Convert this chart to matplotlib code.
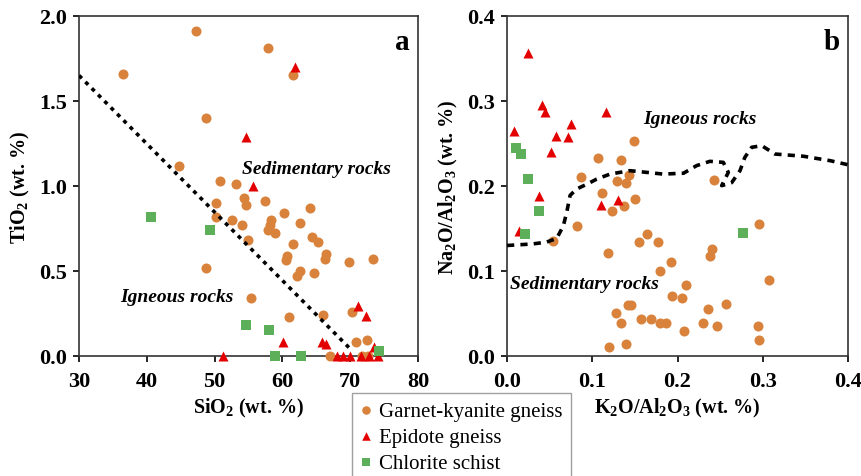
import numpy as np
import matplotlib
matplotlib.use('Agg')
from matplotlib import pyplot as plt

plt.rcParams['font.family'] = ['Liberation Serif', 'DejaVu Serif']
plt.rcParams['mathtext.fontset'] = 'custom'
plt.rcParams['mathtext.rm'] = 'Liberation Serif:bold'
plt.rcParams['mathtext.bf'] = 'Liberation Serif:bold'
plt.rcParams['mathtext.it'] = 'Liberation Serif:bold:italic'

# panel a: SiO2 vs TiO2 (wt. %)
gk_sio2 = [47.2, 36.5, 57.9, 61.6, 48.8, 44.7, 50.8, 53.2, 50.2, 54.3, 54.6, 57.5,
           50.2, 52.6, 54.1, 58.3, 58.2, 57.9, 58.9, 60.3, 64.0, 62.6, 54.9, 64.3,
           65.2, 61.6, 66.5, 66.3, 60.7, 60.5, 73.3, 69.8, 48.8, 62.6, 62.2, 64.7,
           55.4, 70.2, 66.0, 61.0, 70.9, 72.5, 67.0, 71.8, 72.6]
gk_tio2 = [1.91, 1.66, 1.81, 1.655, 1.40, 1.12, 1.03, 1.01, 0.90, 0.93, 0.89, 0.91,
           0.82, 0.80, 0.77, 0.80, 0.77, 0.74, 0.725, 0.84, 0.87, 0.78, 0.68, 0.70,
           0.67, 0.66, 0.60, 0.57, 0.59, 0.565, 0.57, 0.55, 0.52, 0.50, 0.47, 0.49,
           0.34, 0.26, 0.24, 0.23, 0.085, 0.095, 0.0, 0.0, 0.0]
ep_sio2 = [61.9, 54.6, 55.6, 71.2, 72.3, 60.1, 65.8, 66.4, 73.5, 51.2, 68.0, 69.0,
           69.9, 71.6, 72.8, 74.1]
ep_tio2 = [1.70, 1.29, 1.0, 0.295, 0.235, 0.085, 0.085, 0.07, 0.055, 0.0, 0.0, 0.0,
           0.0, 0.0, 0.0, 0.0]
cs_sio2 = [40.6, 49.3, 54.7, 58.0, 74.3, 58.9, 62.7]
cs_tio2 = [0.82, 0.74, 0.18, 0.15, 0.03, 0.0, 0.0]
bound_a_x = [30, 70.3]
bound_a_y = [1.65, 0.03]

# panel b: K2O/Al2O3 vs Na2O/Al2O3
gk_k = [0.149, 0.107, 0.134, 0.087, 0.1435, 0.129, 0.1396, 0.2424, 0.111, 0.123,
        0.137, 0.150, 0.0817, 0.054, 0.296, 0.164, 0.155, 0.1775, 0.119, 0.240,
        0.238, 0.192, 0.1795, 0.307, 0.210, 0.1935, 0.205, 0.257, 0.142, 0.145,
        0.236, 0.128, 0.157, 0.169, 0.134, 0.180, 0.187, 0.230, 0.246, 0.294,
        0.208, 0.2956, 0.140, 0.1196]
gk_na = [0.253, 0.233, 0.230, 0.210, 0.2125, 0.206, 0.203, 0.2067, 0.192, 0.171,
         0.177, 0.185, 0.153, 0.1357, 0.155, 0.144, 0.134, 0.134, 0.121, 0.126,
         0.118, 0.110, 0.100, 0.089, 0.084, 0.071, 0.068, 0.061, 0.060, 0.060,
         0.055, 0.051, 0.0435, 0.0435, 0.039, 0.039, 0.0385, 0.0388, 0.035, 0.0357,
         0.029, 0.0188, 0.014, 0.010]
ep_k = [0.025, 0.041, 0.044, 0.116, 0.008, 0.075, 0.058, 0.072, 0.051, 0.110, 0.130,
        0.037, 0.0137]
ep_na = [0.357, 0.295, 0.287, 0.287, 0.265, 0.273, 0.259, 0.258, 0.240, 0.178, 0.184,
         0.188, 0.147]
cs_k = [0.0106, 0.016, 0.0246, 0.038, 0.0215, 0.2765]
cs_na = [0.245, 0.238, 0.208, 0.170, 0.1435, 0.1447]
bound_b_x = [0.0, 0.03, 0.0465, 0.0583, 0.066, 0.070, 0.074, 0.0817, 0.0935, 0.105,
             0.1208, 0.144, 0.164, 0.183, 0.207, 0.2225, 0.238, 0.2537, 0.2596,
             0.2518, 0.2636, 0.2733, 0.279, 0.287, 0.2988, 0.3144, 0.3476, 0.379, 0.4]
bound_b_y = [0.13, 0.1318, 0.134, 0.1384, 0.153, 0.169, 0.189, 0.1965, 0.202, 0.208,
             0.214, 0.218, 0.216, 0.214, 0.215, 0.224, 0.229, 0.2278, 0.216,
             0.2004, 0.204, 0.218, 0.2337, 0.2455, 0.2474, 0.2376, 0.235, 0.2298, 0.225]

c_gk = '#D9823B'
c_ep = '#E30000'
c_cs = '#5DAF5A'
ms = 52

fig = plt.figure(figsize=(8.61, 4.77), dpi=100)
ax1 = fig.add_axes([0.0918, 0.2516, 0.3937, 0.7128])
ax2 = fig.add_axes([0.5889, 0.2516, 0.3960, 0.7128])

for ax in (ax1, ax2):
    for s in ax.spines.values():
        s.set_linewidth(1.2)
        s.set_color('#333333')
    ax.tick_params(direction='out', length=4.5, width=1.2, labelsize=16, pad=4)
    ax.tick_params(axis='x', pad=6)

# a
ax1.scatter(gk_sio2, gk_tio2, s=ms, c=c_gk, marker='o', linewidths=0, label='Garnet-kyanite gneiss', clip_on=False, zorder=3)
ax1.scatter(ep_sio2, ep_tio2, s=ms, c=c_ep, marker='^', linewidths=0, label='Epidote gneiss', clip_on=False, zorder=4)
ax1.scatter(cs_sio2, cs_tio2, s=ms, c=c_cs, marker='s', linewidths=0, label='Chlorite schist', clip_on=False, zorder=5)
ax1.plot(bound_a_x, bound_a_y, color='black', lw=2.6, linestyle=(0, (1.1, 1.4)), zorder=6)
ax1.set_xlim(30, 80)
ax1.set_ylim(0, 2.0)
ax1.set_xticks([30, 40, 50, 60, 70, 80])
ax1.set_yticks([0.0, 0.5, 1.0, 1.5, 2.0])
ax1.set_yticklabels(['0.0', '0.5', '1.0', '1.5', '2.0'], fontweight='bold')
ax1.set_xticklabels(['30', '40', '50', '60', '70', '80'], fontweight='bold')
ax1.set_xlabel(r'SiO$_\mathbf{2}$ (wt. %)', fontsize=14.5, fontweight='bold', labelpad=4)
ax1.set_ylabel(r'TiO$_\mathbf{2}$ (wt. %)', fontsize=14.5, fontweight='bold', labelpad=5)
ax1.text(54.0, 1.10, 'Sedimentary rocks', fontsize=14, fontweight='bold', fontstyle='italic', va='center')
ax1.text(36.0, 0.35, 'Igneous rocks', fontsize=14, fontweight='bold', fontstyle='italic', va='center')
ax1.text(0.975, 0.965, 'a', transform=ax1.transAxes, fontsize=21, fontweight='bold', ha='right', va='top')

# b
ax2.scatter(gk_k, gk_na, s=ms, c=c_gk, marker='o', linewidths=0, clip_on=False, zorder=3)
ax2.scatter(ep_k, ep_na, s=ms, c=c_ep, marker='^', linewidths=0, clip_on=False, zorder=4)
ax2.scatter(cs_k, cs_na, s=ms, c=c_cs, marker='s', linewidths=0, clip_on=False, zorder=5)
ax2.plot(bound_b_x, bound_b_y, color='black', lw=2.6, linestyle=(0, (2.0, 1.7)), zorder=6)
ax2.set_xlim(0, 0.4)
ax2.set_ylim(0, 0.4)
ax2.set_xticks([0.0, 0.1, 0.2, 0.3, 0.4])
ax2.set_yticks([0.0, 0.1, 0.2, 0.3, 0.4])
ax2.set_xticklabels(['0.0', '0.1', '0.2', '0.3', '0.4'], fontweight='bold')
ax2.set_yticklabels(['0.0', '0.1', '0.2', '0.3', '0.4'], fontweight='bold')
ax2.set_xlabel(r'K$_\mathbf{2}$O/Al$_\mathbf{2}$O$_\mathbf{3}$ (wt. %)', fontsize=14.5, fontweight='bold', labelpad=4)
ax2.set_ylabel(r'Na$_\mathbf{2}$O/Al$_\mathbf{2}$O$_\mathbf{3}$ (wt. %)', fontsize=14.5, fontweight='bold', labelpad=5)
ax2.text(0.16, 0.279, 'Igneous rocks', fontsize=14, fontweight='bold', fontstyle='italic', va='center')
ax2.text(0.003, 0.085, 'Sedimentary rocks', fontsize=14, fontweight='bold', fontstyle='italic', va='center')
ax2.text(0.975, 0.965, 'b', transform=ax2.transAxes, fontsize=21, fontweight='bold', ha='right', va='top')

h, l = ax1.get_legend_handles_labels()
leg = fig.legend(h, l, loc='upper left', bbox_to_anchor=(352 / 861, 1 - 394 / 477),
                 fontsize=15, frameon=True, fancybox=False, edgecolor='#888888',
                 handletextpad=0.4, labelspacing=0.3, borderpad=0.4,
                 handlelength=0.5, markerscale=0.85, borderaxespad=0)
leg.get_frame().set_linewidth(1.0)

fig.savefig('out.png', dpi=100)
